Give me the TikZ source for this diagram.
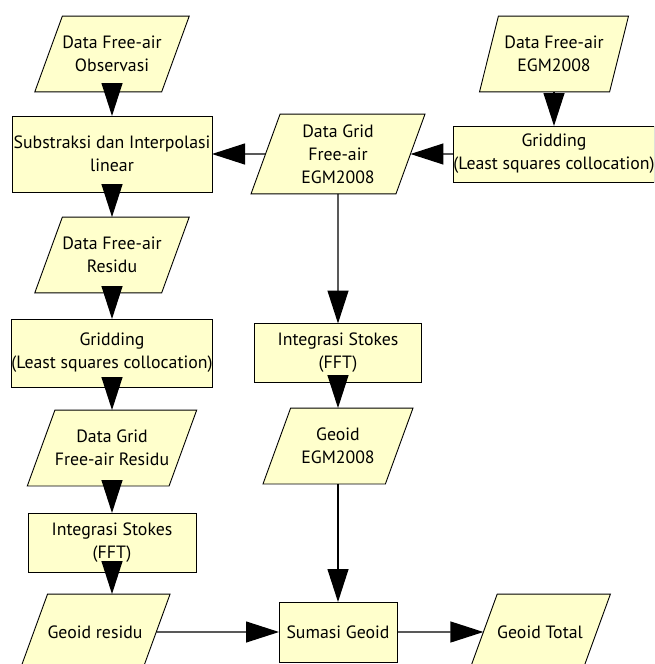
\documentclass[tikz,border=0pt]{standalone}
\usepackage{fontspec}
\setmainfont{PT Sans}
\usetikzlibrary{arrows.meta,shapes.geometric}
\definecolor{boxfill}{HTML}{FFFFCC}
\newlength{\lw}
\setlength{\lw}{1.2pt}
\tikzstyle{every picture}+=[>={Triangle[length=33pt,width=21pt]}]
\tikzstyle{every picture}+=[line width=\lw]
\tikzstyle{every picture}+=[node distance=100pt]
\tikzstyle{every node}+=[font=\fontsize{17.8}{23}\selectfont, align=center]
\tikzstyle{proc}+=[draw, fill=boxfill, line width=0.9pt]
\tikzstyle{proc}+=[inner sep=0pt, outer sep=0pt]
\tikzstyle{data}+=[proc, trapezium, trapezium left angle=70, trapezium right angle=110]
\tikzstyle{data}+=[trapezium stretches body, inner xsep=0pt, inner ysep=20pt]
\tikzstyle{oneline}=[inner ysep=31.5pt]
\tikzstyle{threeline}=[inner ysep=10.5pt]

\begin{document}
\begin{tikzpicture}[x=1pt,y=-1pt]
\useasboundingbox (0,0) rectangle (654,664);
\clip (0,0) rectangle (654,664);

% left column
\node[data, minimum width=151pt] (obs) at (112,54) {Data Free-air\\Observasi};
\node[proc, minimum width=200pt, minimum height=76pt] (subs) [below of=obs] {Substraksi dan Interpolasi\\linear};
\node[data, minimum width=150pt] (residu) [below of=subs, node distance=101pt] {Data Free-air\\Residu};
\node[proc, minimum width=200pt, minimum height=68pt] (gridL) [below of=residu, node distance=98pt] {Gridding\\(Least squares collocation)};
\node[data, minimum width=168pt] (dgres) [below of=gridL, node distance=95pt] {Data Grid\\Free-air Residu};
\node[proc, minimum width=168pt, minimum height=59pt] (intL) [below of=dgres, node distance=94.5pt] {Integrasi Stokes\\(FFT)};
\node[data, oneline, minimum width=142pt] (georesidu) [below of=intL, node distance=89.5pt, xshift=-17pt] {Geoid residu};

% middle and right column
\node[data, threeline, minimum width=174pt] (dgEGM) [right of=subs, node distance=226pt] {Data Grid\\Free-air\\EGM2008};
\node[proc, minimum width=200pt, minimum height=56pt] (gridR) [right of=dgEGM, node distance=216pt] {Gridding\\(Least squares collocation)};
\node[data, minimum width=149pt, trapezium left angle=76, trapezium right angle=104] (freeEGM) [above of=gridR] {Data Free-air\\EGM2008};
\node[proc, minimum width=167pt, minimum height=59pt] (intM) [below of=dgEGM, node distance=199pt] {Integrasi Stokes\\(FFT)};
\node[data, minimum width=150pt] (geoEGM) [below of=intM, node distance=93pt] {Geoid\\EGM2008};
\node[proc, minimum width=118pt, minimum height=60pt] (sumasi) [below of=geoEGM, node distance=186pt] {Sumasi Geoid};
\node[data, oneline, minimum width=140pt] (geototal) [right of=sumasi, node distance=202pt] {Geoid Total};

\path[->]
   (obs) edge (subs)
   (subs) edge (residu)
   (residu) edge (gridL)
   (gridL) edge (dgres)
   (dgres) edge (intL)
   (intL) edge (intL.south |- georesidu.north)
   (georesidu) edge (sumasi)
   (sumasi) edge (geototal)
   (freeEGM) edge (gridR)
   (gridR) edge (dgEGM)
   (dgEGM) edge (subs)
   (dgEGM) edge (intM)
   (intM) edge (geoEGM)
   (geoEGM) edge (sumasi)
;
\end{tikzpicture}
\end{document}
